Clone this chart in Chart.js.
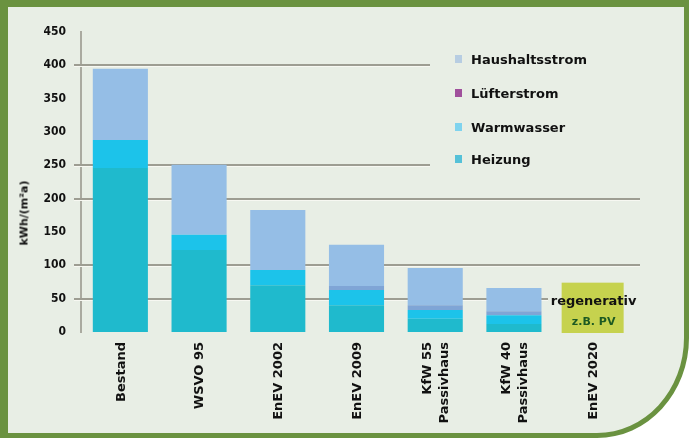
<!DOCTYPE html>
<html>
<head>
<meta charset="utf-8">
<script src="https://cdn.jsdelivr.net/npm/chart.js@4/dist/chart.umd.min.js"></script>
<style>
  body { margin: 0; background: #ffffff; }
  #rahmen {
    position: absolute; left: 0; top: 0; width: 689px; height: 438px; box-sizing: border-box;
    border-style: solid; border-color: #6a9240; border-width: 7px 5px 5px 8px;
    border-bottom-right-radius: 92px 100px; background: #e8eee5;
  }
  #grafik { position: absolute; left: 0; top: 0; }
  .leg { position: absolute; left: 455px; font: bold 13px "DejaVu Sans", sans-serif; color: #111; line-height: 16px; }
  .leg span { display: inline-block; width: 7px; height: 8px; margin-right: 9px; vertical-align: 1px; }
  #ytitel {
    position: absolute; left: 24px; top: 213px; transform: translate(-50%, -50%) rotate(-90deg);
    font: bold 11px "DejaVu Sans", sans-serif; color: #111; white-space: nowrap;
  }
</style>
</head>
<body>
<div id="rahmen"></div>
<canvas id="grafik" width="694" height="438"></canvas>
<div id="ytitel">kWh/(m²a)</div>
<div class="leg" style="top:52px"><span style="background:#b7cde2"></span>Haushaltsstrom</div>
<div class="leg" style="top:86px"><span style="background:#a0509c"></span>Lüfterstrom</div>
<div class="leg" style="top:120px"><span style="background:#7fd3ee"></span>Warmwasser</div>
<div class="leg" style="top:152px"><span style="background:#55c1d8"></span>Heizung</div>
<script>
// Werte in kWh/(m²a)
const kategorien = ['Bestand', 'WSVO 95', 'EnEV 2002', 'EnEV 2009', ['KfW 55', 'Passivhaus'], ['KfW 40', 'Passivhaus'], 'EnEV 2020'];
const heizung = [246, 123, 70, 40, 20, 12, 0];
const warmwasser = [42, 23, 23, 23, 13, 13, 0];
const luefterstrom = [0, 0, 0, 6, 7, 6, 0];
const haushaltsstrom = [107, 105, 90, 62, 56, 35, 0];
const yTicks = [0, 50, 100, 150, 200, 250, 300, 350, 400, 450];
const linienWerte = [400, 250, 200, 100, 50];

// Rasterlinien wie im Original: nicht alle gehen bis ganz rechts
const linienEnde = { 400: 430, 250: 430, 200: 640, 100: 640, 50: 548 };

const rasterPlugin = {
    id: 'raster',
    beforeDatasetsDraw(chart) {
        const { ctx, chartArea, scales: { y } } = chart;
        ctx.save();
        linienWerte.forEach(v => {
            const py = Math.round(y.getPixelForValue(v));
            ctx.fillStyle = '#9d9d92';
            ctx.fillRect(chartArea.left - 7, py - 1, linienEnde[v] - chartArea.left + 7, 2);
            ctx.fillStyle = '#f7f8f2';
            ctx.fillRect(chartArea.left - 7, py + 1, linienEnde[v] - chartArea.left + 7, 1);
        });
        ctx.restore();
    }
};

// Beschriftung der Kategorien senkrecht, mehrzeilige mittig um die Säule
const achsenText = {
    id: 'achsenText',
    afterDraw(chart) {
        const { ctx, chartArea, scales: { x } } = chart;
        ctx.save();
        ctx.font = 'bold 13px "DejaVu Sans"';
        ctx.fillStyle = '#111';
        ctx.textAlign = 'right';
        ctx.textBaseline = 'middle';
        kategorien.forEach((k, i) => {
            const zeilen = Array.isArray(k) ? k : [k];
            ctx.save();
            ctx.translate(x.getPixelForValue(i) + 1, chartArea.bottom + 10);
            ctx.rotate(-Math.PI / 2);
            zeilen.forEach((z, j) => ctx.fillText(z, 0, (j - (zeilen.length - 1) / 2) * 17));
            ctx.restore();
        });
        ctx.restore();
    }
};

const regenerativPlugin = {
    id: 'regenerativ',
    afterDatasetsDraw(chart) {
        const { ctx, scales: { x, y } } = chart;
        const cx = x.getPixelForValue(6);
        const oben = y.getPixelForValue(74);
        const unten = y.getPixelForValue(0) + 1;
        ctx.save();
        ctx.fillStyle = '#c6d24e';
        ctx.fillRect(cx - 31, oben, 62, unten - oben);
        ctx.textAlign = 'center';
        ctx.textBaseline = 'middle';
        ctx.fillStyle = '#111';
        ctx.font = 'bold 13px "DejaVu Sans"';
        ctx.fillText('regenerativ', cx + 1, y.getPixelForValue(45));
        ctx.fillStyle = '#1d5a22';
        ctx.font = 'bold 11px "DejaVu Sans"';
        ctx.fillText('z.B. PV', cx + 1, y.getPixelForValue(15));
        ctx.restore();
    }
};

new Chart(document.getElementById('grafik'), {
    type: 'bar',
    data: {
        labels: kategorien,
        datasets: [
            { label: 'Heizung', data: heizung, backgroundColor: '#1fbacd' },
            { label: 'Warmwasser', data: warmwasser, backgroundColor: '#1cc3ea' },
            { label: 'Lüfterstrom', data: luefterstrom, backgroundColor: '#7fa5d6' },
            { label: 'Haushaltsstrom', data: haushaltsstrom, backgroundColor: '#95bee6' }
        ]
    },
    options: {
        responsive: false,
        animation: false,
        layout: { padding: { left: 0, top: 32, right: 62, bottom: 0 } },
        datasets: { bar: { barPercentage: 0.7, categoryPercentage: 1 } },
        plugins: { legend: { display: false }, tooltip: { enabled: false } },
        scales: {
            x: {
                stacked: true,
                grid: { display: false, drawTicks: false },
                border: { display: false },
                ticks: { display: false },
                afterFit: (s) => { s.height = 106; }
            },
            y: {
                stacked: true,
                min: 0, max: 450,
                afterBuildTicks: (s) => { s.ticks = yTicks.map(v => ({ value: v })); },
                grid: { display: false, drawTicks: false },
                border: { display: true, color: '#aaaaa0', width: 2 },
                ticks: {
                    color: '#111', padding: 15,
                    font: { family: 'DejaVu Sans Condensed', size: 12, weight: 'bold' }
                },
                afterFit: (s) => { s.width = 81; }
            }
        }
    },
    plugins: [rasterPlugin, achsenText, regenerativPlugin]
});
</script>
</body>
</html>
